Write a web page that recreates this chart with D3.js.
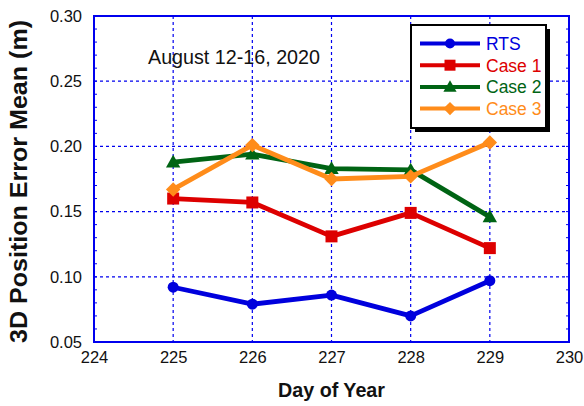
<!DOCTYPE html>
<html>
<head>
<meta charset="utf-8">
<script src="https://cdn.jsdelivr.net/npm/d3@7/dist/d3.min.js"></script>
<style>
  html, body { margin: 0; padding: 0; background: #fff; }
  svg { display: block; font-family: Arial, "Liberation Sans", sans-serif; }
</style>
</head>
<body>
<svg id="chart" width="584" height="406"></svg>
<script>
// Day-of-year categories and mean 3D position error (m) for each solution
const days = [225, 226, 227, 228, 229];
const rts   = [0.092, 0.079, 0.086, 0.070, 0.097];
const case1 = [0.160, 0.157, 0.131, 0.149, 0.122];
const case2 = [0.188, 0.194, 0.183, 0.182, 0.146];
const case3 = [0.167, 0.201, 0.175, 0.177, 0.203];
const seriesNames = ["RTS", "Case 1", "Case 2", "Case 3"];
const xTicks = [224, 225, 226, 227, 228, 229, 230];
const yTicks = [0.05, 0.10, 0.15, 0.20, 0.25, 0.30];

const series = [
  { name: seriesNames[0], values: rts,   color: "#0000dd", shape: "circle" },
  { name: seriesNames[1], values: case1, color: "#dd0000", shape: "square" },
  { name: seriesNames[2], values: case2, color: "#006414", shape: "triangle" },
  { name: seriesNames[3], values: case3, color: "#ff8c1a", shape: "diamond" }
];

const svg = d3.select("#chart");
const m = { left: 94, right: 569, top: 16, bottom: 342 };

const x = d3.scaleLinear().domain([224, 230]).range([m.left, m.right]);
const y = d3.scaleLinear().domain([0.05, 0.30]).range([m.bottom, m.top]);
const gridBlue = "#0000ee";

// Dotted grid lines
const grid = svg.append("g");
grid.selectAll("line.vx").data(xTicks.slice(1, -1)).join("line")
  .attr("x1", d => x(d)).attr("x2", d => x(d))
  .attr("y1", m.top).attr("y2", m.bottom)
  .attr("stroke", gridBlue).attr("stroke-width", 1.2).attr("stroke-dasharray", "3,3");
grid.selectAll("line.hy").data(yTicks.slice(1, -1)).join("line")
  .attr("y1", d => y(d)).attr("y2", d => y(d))
  .attr("x1", m.left).attr("x2", m.right)
  .attr("stroke", gridBlue).attr("stroke-width", 1.2).attr("stroke-dasharray", "3,3");

// Minor ticks along the left and right edges
const minor = d3.range(0.05, 0.3001, 0.01);
svg.append("g").selectAll("line").data(minor).join("line")
  .attr("x1", m.left).attr("x2", m.left + 3)
  .attr("y1", d => y(d)).attr("y2", d => y(d))
  .attr("stroke", gridBlue).attr("stroke-width", 1);
svg.append("g").selectAll("line").data(minor).join("line")
  .attr("x1", m.right).attr("x2", m.right - 3)
  .attr("y1", d => y(d)).attr("y2", d => y(d))
  .attr("stroke", gridBlue).attr("stroke-width", 1);

// Plot frame
svg.append("rect")
  .attr("x", m.left).attr("y", m.top)
  .attr("width", m.right - m.left).attr("height", m.bottom - m.top)
  .attr("fill", "none").attr("stroke", gridBlue).attr("stroke-width", 2);

// Axes tick labels via d3 axes
const xAxis = svg.append("g").attr("transform", `translate(0,${m.bottom})`)
  .call(d3.axisBottom(x).tickValues(xTicks).tickFormat(d3.format("d")).tickSize(0).tickPadding(9));
const yAxis = svg.append("g").attr("transform", `translate(${m.left},0)`)
  .call(d3.axisLeft(y).tickValues(yTicks).tickFormat(d3.format(".2f")).tickSize(0).tickPadding(12));
[xAxis, yAxis].forEach(g => {
  g.select(".domain").remove();
  g.selectAll("text").attr("font-size", 16.5).attr("fill", "#111")
    .attr("font-family", "Arial, 'Liberation Sans', sans-serif");
});

// Axis titles
svg.append("text")
  .attr("x", x(227)).attr("y", 397)
  .attr("text-anchor", "middle").attr("font-size", 21).attr("font-weight", "bold")
  .attr("textLength", 107).attr("lengthAdjust", "spacingAndGlyphs")
  .attr("fill", "#111").text("Day of Year");
svg.append("text")
  .attr("transform", `translate(27,181.5) rotate(-90)`)
  .attr("text-anchor", "middle").attr("font-size", 23).attr("font-weight", "bold")
  .attr("textLength", 323).attr("lengthAdjust", "spacingAndGlyphs")
  .attr("fill", "#111").text("3D Position Error Mean (m)");

// Annotation
svg.append("text")
  .attr("x", 148).attr("y", 64)
  .attr("font-size", 20).attr("textLength", 172).attr("lengthAdjust", "spacingAndGlyphs")
  .attr("fill", "#111").text("August 12-16, 2020");

// Marker drawing
function marker(g, shape, color, size) {
  const s = size;
  if (shape === "circle") g.append("circle").attr("r", s * 0.5).attr("fill", color);
  else if (shape === "square") g.append("rect").attr("x", -s / 2).attr("y", -s / 2)
    .attr("width", s).attr("height", s).attr("fill", color);
  else if (shape === "triangle") g.append("path")
    .attr("d", `M0,${-s * 0.6}L${s * 0.6},${s * 0.45}L${-s * 0.6},${s * 0.45}Z`).attr("fill", color);
  else if (shape === "diamond") g.append("path")
    .attr("d", `M0,${-s * 0.6}L${s * 0.6},0L0,${s * 0.6}L${-s * 0.6},0Z`).attr("fill", color);
}

const line = d3.line().x((d, i) => x(days[i])).y(d => y(d));
const markerSize = { circle: 11, square: 12, triangle: 12, diamond: 12 };

series.forEach(s => {
  svg.append("path").datum(s.values)
    .attr("d", line).attr("fill", "none")
    .attr("stroke", s.color).attr("stroke-width", 4.8).attr("stroke-linejoin", "round");
  s.values.forEach((v, i) => {
    const g = svg.append("g").attr("transform", `translate(${x(days[i])},${y(v)})`);
    marker(g, s.shape, s.color, markerSize[s.shape]);
  });
});

// Legend with drop shadow
const lg = { x: 411, y: 25, w: 135, h: 103 };
svg.append("rect").attr("x", lg.x + 4).attr("y", lg.y + 4)
  .attr("width", lg.w).attr("height", lg.h).attr("fill", "#000");
svg.append("rect").attr("x", lg.x).attr("y", lg.y)
  .attr("width", lg.w).attr("height", lg.h)
  .attr("fill", "#fff").attr("stroke", "#000").attr("stroke-width", 2);
series.forEach((s, i) => {
  const cy = lg.y + 18.5 + i * 21.7;
  svg.append("line").attr("x1", 420).attr("x2", 480).attr("y1", cy).attr("y2", cy)
    .attr("stroke", s.color).attr("stroke-width", 4);
  const g = svg.append("g").attr("transform", `translate(450,${cy})`);
  marker(g, s.shape, s.color, s.shape === "circle" ? 10 : 11);
  svg.append("text").attr("x", 486).attr("y", cy + 6.5)
    .attr("font-size", 17.5).attr("fill", s.color).text(s.name);
});
</script>
</body>
</html>
